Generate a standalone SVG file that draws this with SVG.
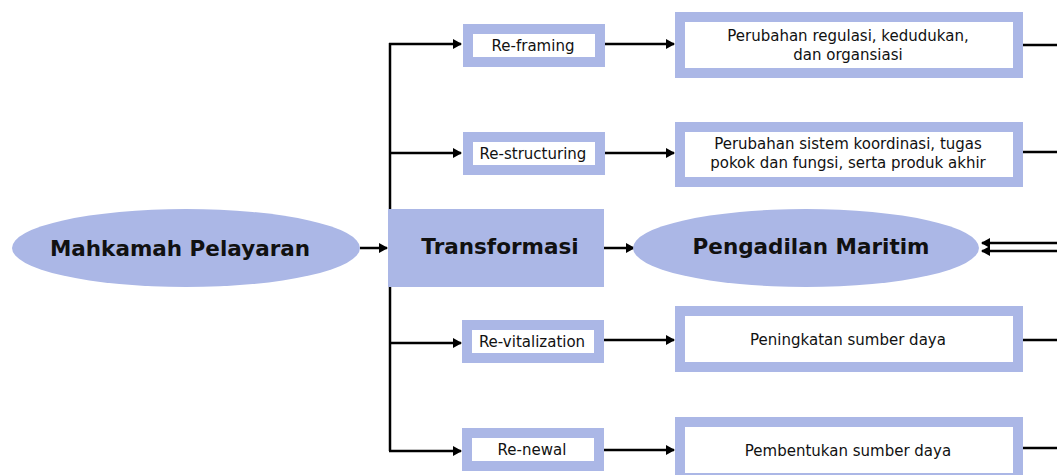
<svg xmlns="http://www.w3.org/2000/svg" width="1057" height="475" viewBox="0 0 1057 475">
<style>
.fill{fill:#abb7e6;}
.box{fill:#fff;stroke:#abb7e6;stroke-width:10;}
.big{font-family:"DejaVu Sans","Liberation Sans",sans-serif;font-weight:bold;font-size:21.5px;fill:#111;text-anchor:middle;}
.sm{font-family:"DejaVu Sans","Liberation Sans",sans-serif;font-size:15px;fill:#111;text-anchor:middle;}
.ln{stroke:#000;stroke-width:2.5;fill:none;}
.ar{marker-end:url(#ah);}
</style>
<defs>
<marker id="ah" markerWidth="10" markerHeight="10" refX="8" refY="5" orient="auto" markerUnits="userSpaceOnUse">
<path d="M0,0 L9,5 L0,10 Z" fill="#000"/>
</marker>
</defs>
<rect width="1057" height="475" fill="#fff"/>
<g id="connectors">
<line class="ln ar" x1="360" y1="248" x2="387" y2="248"/>
<line class="ln ar" x1="604" y1="248" x2="634" y2="248"/>
<path class="ln" d="M390,209 V43"/>
<path class="ln" d="M390,287 V451"/>
<line class="ln ar" x1="389" y1="44" x2="461" y2="44"/>
<line class="ln ar" x1="389" y1="153" x2="461" y2="153"/>
<line class="ln ar" x1="389" y1="343" x2="461" y2="343"/>
<line class="ln ar" x1="389" y1="451" x2="461" y2="451"/>
<line class="ln ar" x1="605" y1="44" x2="674" y2="44"/>
<line class="ln ar" x1="605" y1="153" x2="674" y2="153"/>
<line class="ln ar" x1="604" y1="340" x2="674" y2="340"/>
<line class="ln ar" x1="604" y1="450" x2="674" y2="450"/>
<line class="ln" x1="1023" y1="45" x2="1057" y2="45"/>
<line class="ln" x1="1023" y1="152" x2="1057" y2="152"/>
<line class="ln" x1="1023" y1="340" x2="1057" y2="340"/>
<line class="ln" x1="1023" y1="448" x2="1057" y2="448"/>
<line class="ln ar" x1="1057" y1="243" x2="982" y2="243"/>
<line class="ln ar" x1="1057" y1="251" x2="982" y2="251"/>
</g>
<g id="mahkamah">
<ellipse class="fill" cx="186" cy="248" rx="174" ry="39"/>
<text class="big" x="180" y="256" font-size="23">Mahkamah Pelayaran</text>
</g>
<g id="transformasi">
<rect class="fill" x="388" y="209" width="216" height="78"/>
<text class="big" x="500" y="254">Transformasi</text>
</g>
<g id="pengadilan">
<ellipse class="fill" cx="806" cy="248" rx="173" ry="39"/>
<text class="big" x="811" y="254">Pengadilan Maritim</text>
</g>
<g id="reframing">
<rect class="box" x="468" y="29" width="132" height="33"/>
<text class="sm" x="533" y="51">Re-framing</text>
</g>
<g id="restructuring">
<rect class="box" x="468" y="137" width="132" height="33"/>
<text class="sm" x="533" y="159">Re-structuring</text>
</g>
<g id="revitalization">
<rect class="box" x="467" y="325" width="132" height="33"/>
<text class="sm" x="532" y="347">Re-vitalization</text>
</g>
<g id="renewal">
<rect class="box" x="467" y="433" width="132" height="33"/>
<text class="sm" x="532" y="455">Re-newal</text>
</g>
<g id="box1">
<rect class="box" x="680" y="17" width="338" height="56"/>
<text class="sm" x="848" y="41">Perubahan regulasi, kedudukan,</text>
<text class="sm" x="848" y="60">dan organsiasi</text>
</g>
<g id="box2">
<rect class="box" x="680" y="127" width="338" height="55"/>
<text class="sm" x="848" y="149">Perubahan sistem koordinasi, tugas</text>
<text class="sm" x="848" y="168">pokok dan fungsi, serta produk akhir</text>
</g>
<g id="box3">
<rect class="box" x="680" y="311" width="338" height="56"/>
<text class="sm" x="848" y="345">Peningkatan sumber daya</text>
</g>
<g id="box4">
<rect class="box" x="680" y="422" width="338" height="56"/>
<text class="sm" x="848" y="456">Pembentukan sumber daya</text>
</g>
</svg>
